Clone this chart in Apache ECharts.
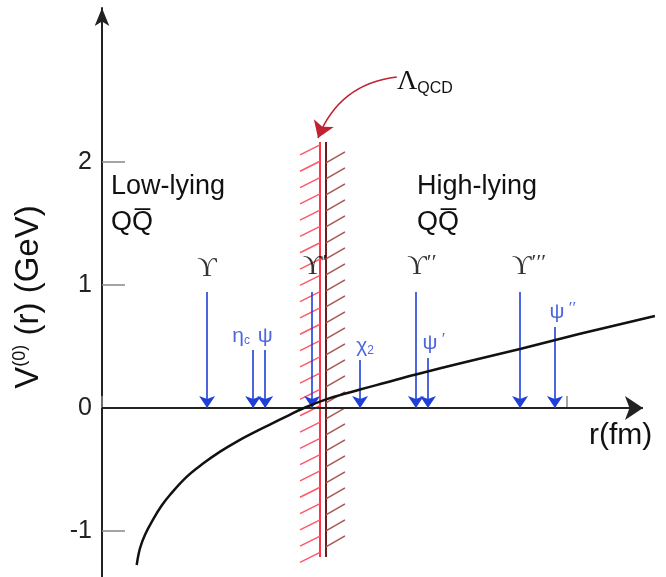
<!DOCTYPE html>
<html>
<head>
<meta charset="utf-8">
<script src="https://cdn.jsdelivr.net/npm/echarts@6/dist/echarts.min.js"></script>
<style>
  html, body { margin: 0; padding: 0; background: #fff; }
  #chart { width: 666px; height: 577px; }
</style>
</head>
<body>
<div id="chart"></div>
<script>
// potential curve V(r)
const rPot = [0.0746, 0.0817, 0.0925, 0.110, 0.128, 0.146, 0.182, 0.218, 0.254, 0.290, 0.325, 0.361, 0.397, 0.433, 0.49, 0.555, 0.609, 0.675, 0.78, 0.901, 1.028, 1.189];
const vPot = [-1.276, -1.14, -1.03, -0.905, -0.795, -0.707, -0.560, -0.450, -0.355, -0.273, -0.203, -0.135, -0.068, -0.002, 0.08, 0.15, 0.205, 0.272, 0.372, 0.482, 0.603, 0.748];

// quarkonium states: r position, top of the arrow, label, kind (b = bottomonium, c = charmonium)
const stateR = [0.226, 0.325, 0.351, 0.452, 0.555, 0.675, 0.701, 0.899, 0.974];
const stateTop = [0.943, 0.472, 0.472, 0.943, 0.39, 0.943, 0.407, 0.943, 0.659];
const stateLabel = ['{u|ϒ}', '{c|η}{sub|c}', '{c|ψ}', '{u|ϒ}{up|′}', '{c|χ}{sub|2}', '{u|ϒ}{up|′′}', '{c|ψ}{cp| ′}', '{u|ϒ}{up|′′′}', '{c|ψ}{cp| ′′}'];
const stateKind = ['b', 'c', 'c', 'b', 'c', 'b', 'c', 'b', 'c'];
const stateShift = [0, -12, 0, 3, 5, 6, 6, 9, 8];

// Lambda_QCD band: [r red line, r dark line, V bottom, V top]
const band = [0.4688, 0.4817, -1.211, 2.163];
// Lambda_QCD pointer: from label to band
const lambdaFrom = [0.634, 2.691];
const lambdaTo = [0.4645, 2.195];

// r axis arrow runs to here, the curve a bit further
const rAxisEnd = 1.1634;
const yTicks = [-1, 0, 1, 2];

const chart = echarts.init(document.getElementById('chart'));

const arrowData = stateR.map((r, i) => ({ coords: [[r, stateTop[i]], [r, 0]] }));
const labelData = stateR.map((r, i) => ({
  value: [r, stateTop[i]],
  label: {
    formatter: stateLabel[i],
    offset: [stateShift[i], 0],
    distance: stateKind[i] === 'b' ? 10 : 3
  }
}));

function renderBand(params, api) {
  const redTop = api.coord([api.value(0), api.value(3)]);
  const redBot = api.coord([api.value(0), api.value(2)]);
  const darkTop = api.coord([api.value(1), api.value(3)]);
  const darkBot = api.coord([api.value(1), api.value(2)]);
  const children = [
    { type: 'line', shape: { x1: redTop[0], y1: redTop[1], x2: redBot[0], y2: redBot[1] },
      style: { stroke: '#ff3345', lineWidth: 2 } },
    { type: 'line', shape: { x1: darkTop[0], y1: darkTop[1], x2: darkBot[0], y2: darkBot[1] },
      style: { stroke: '#6e1c1c', lineWidth: 2 } }
  ];
  // hatching
  const step = 16.3;
  for (let y = redTop[1] + 3; y <= redBot[1] - 4; y += step) {
    children.push({ type: 'line', shape: { x1: redTop[0] - 20, y1: y + 10, x2: redTop[0], y2: y },
      style: { stroke: '#ff5566', lineWidth: 1.5 } });
  }
  for (let y = darkTop[1] + 21; y <= darkBot[1] - 9; y += 16) {
    children.push({ type: 'line', shape: { x1: darkTop[0], y1: y, x2: darkTop[0] + 19, y2: y - 11 },
      style: { stroke: '#a45858', lineWidth: 1.5 } });
  }
  return { type: 'group', children: children };
}

chart.setOption({
  animation: false,
  grid: { left: 102, top: 8, right: 11, bottom: 0, containLabel: false, outerBoundsMode: 'none' },
  xAxis: {
    type: 'value',
    min: 0,
    max: 1.1892,
    interval: 1,
    splitLine: { show: false },
    axisLine: { show: false, onZero: true },
    axisTick: { inside: true, length: 12, lineStyle: { color: '#888', width: 1.5 } },
    axisLabel: {
      fontSize: 24, color: '#222', margin: 16, fontFamily: 'Liberation Sans',
      showMaxLabel: false,
      formatter: v => (v === 1 ? '1' : '')
    }
  },
  yAxis: {
    type: 'value',
    min: -1.374,
    max: 3.252,
    splitLine: { show: false },
    axisLine: {
      onZero: false,
      symbol: ['none', 'arrow'],
      symbolSize: [11, 18],
      lineStyle: { color: '#222', width: 2 }
    },
    axisTick: { inside: true, length: 23, customValues: [-1, 1, 2], lineStyle: { color: '#888', width: 1.5 } },
    axisLabel: { customValues: yTicks, fontSize: 25, color: '#222', margin: 10, fontFamily: 'Liberation Sans' }
  },
  series: [
    {
      type: 'custom',
      renderItem: renderBand,
      data: [band],
      clip: false,
      z: 1
    },
    {
      // r axis with its arrow
      type: 'lines',
      coordinateSystem: 'cartesian2d',
      data: [{ coords: [[0, 0], [rAxisEnd, 0]] }],
      symbol: ['none', 'arrow'],
      symbolSize: [11, 18],
      lineStyle: { color: '#222', width: 2, opacity: 1 },
      z: 2
    },
    {
      type: 'line',
      data: rPot.map((r, i) => [r, vPot[i]]),
      smooth: 0.4,
      showSymbol: false,
      clip: false,
      lineStyle: { color: '#111', width: 2.5 },
      z: 4
    },
    {
      type: 'lines',
      coordinateSystem: 'cartesian2d',
      data: arrowData,
      symbol: ['none', 'arrow'],
      symbolSize: [11, 12],
      lineStyle: { color: '#1f3fd8', width: 1.6, opacity: 1 },
      z: 3
    },
    {
      type: 'lines',
      coordinateSystem: 'cartesian2d',
      data: [{ coords: [lambdaFrom, lambdaTo] }],
      symbol: ['none', 'arrow'],
      symbolSize: [12, 16],
      lineStyle: { color: '#c02233', width: 1.6, opacity: 1, curveness: -0.3 },
      z: 3
    },
    {
      type: 'scatter',
      data: labelData,
      symbolSize: 0,
      z: 5,
      label: {
        show: true,
        position: 'top',
        rich: {
          u: { fontFamily: 'Liberation Serif', fontSize: 27, color: '#000' },
          up: { fontFamily: 'Liberation Serif', fontSize: 22, color: '#000', verticalAlign: 'top', lineHeight: 30 },
          c: { fontFamily: 'Liberation Sans', fontSize: 21, color: '#1f3fd8' },
          sub: { fontFamily: 'Liberation Sans', fontSize: 12, color: '#1f3fd8', verticalAlign: 'bottom', lineHeight: 20 },
          cp: { fontFamily: 'Liberation Serif', fontSize: 17, color: '#1f3fd8', verticalAlign: 'top', lineHeight: 24 }
        }
      }
    }
  ],
  graphic: [
    {
      type: 'text', x: 29, y: 297, rotation: Math.PI / 2,
      style: {
        text: '{a|V}{s|(0)}{a| (r) (GeV)}',
        align: 'center', verticalAlign: 'middle',
        rich: {
          a: { fontFamily: 'Liberation Sans', fontSize: 33, fill: '#111', lineHeight: 36 },
          s: { fontFamily: 'Liberation Sans', fontSize: 18, fill: '#111', verticalAlign: 'top', lineHeight: 36 }
        }
      }
    },
    { type: 'text', x: 589, y: 436, style: { text: 'r(fm)', fontFamily: 'Liberation Sans', fontSize: 30, fill: '#111', verticalAlign: 'middle' } },
    { type: 'text', x: 111, y: 187, style: { text: 'Low-lying', fontFamily: 'Liberation Sans', fontSize: 27, fill: '#111', verticalAlign: 'middle' } },
    { type: 'text', x: 111, y: 223, style: { text: 'QQ\u0305', fontFamily: 'Liberation Sans', fontSize: 27, fill: '#111', verticalAlign: 'middle' } },
    { type: 'text', x: 417, y: 187, style: { text: 'High-lying', fontFamily: 'Liberation Sans', fontSize: 27, fill: '#111', verticalAlign: 'middle' } },
    { type: 'text', x: 417, y: 223, style: { text: 'QQ\u0305', fontFamily: 'Liberation Sans', fontSize: 27, fill: '#111', verticalAlign: 'middle' } },
    {
      type: 'text', x: 397, y: 82,
      style: {
        text: '{l|Λ}{q|QCD}',
        verticalAlign: 'middle',
        rich: {
          l: { fontFamily: 'Liberation Serif', fontSize: 28, fill: '#111', lineHeight: 30 },
          q: { fontFamily: 'Liberation Sans', fontSize: 16, fill: '#111', verticalAlign: 'bottom', lineHeight: 26 }
        }
      }
    }
  ]
});
</script>
</body>
</html>
